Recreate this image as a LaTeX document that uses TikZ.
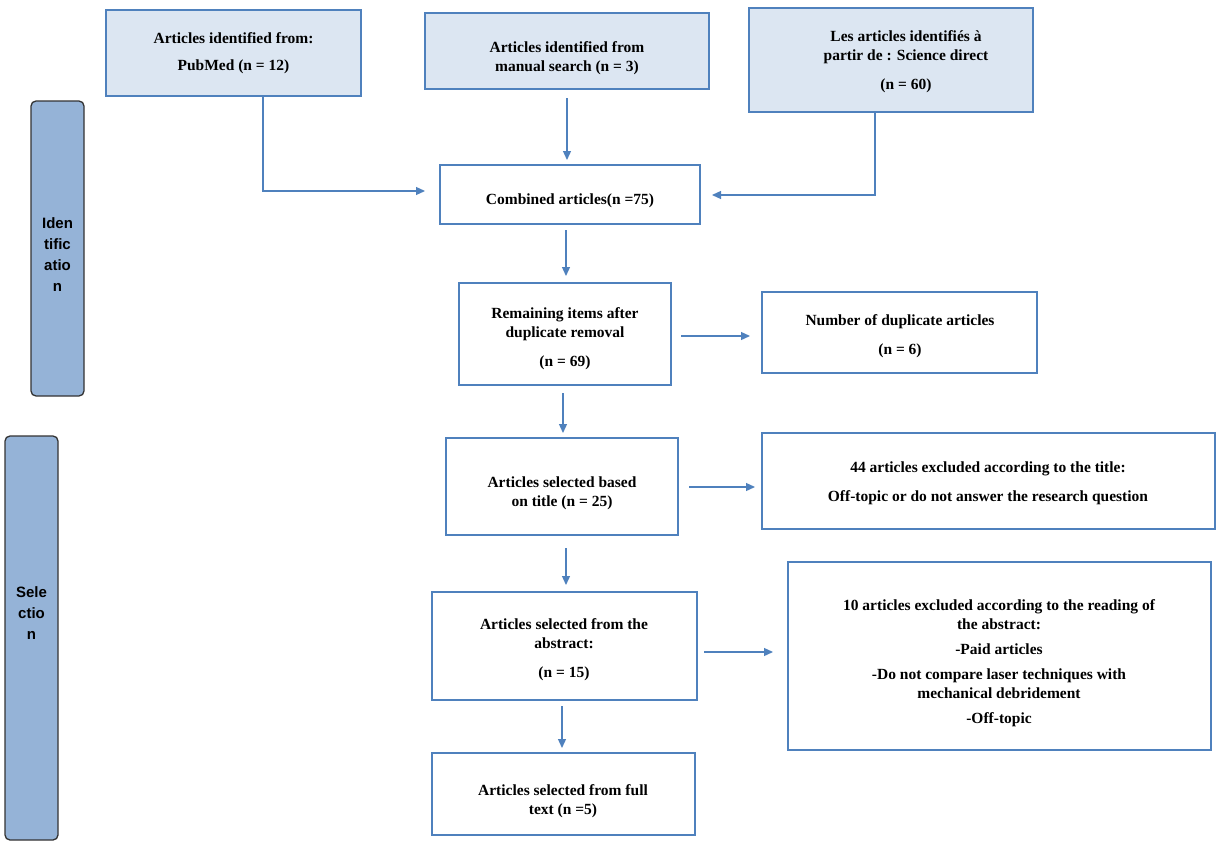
\documentclass[tikz,border=0pt]{standalone}
\usepackage{fontspec}
\setmainfont{Liberation Serif}
\newfontfamily\sidefont{Liberation Sans}
\usetikzlibrary{arrows.meta}
\definecolor{bd}{HTML}{4F81BD}
\definecolor{fl}{HTML}{DCE6F2}
\definecolor{sd}{HTML}{95B3D7}
\begin{document}
\begin{tikzpicture}[x=1pt,y=-1pt,
 box/.style={draw=bd,line width=1.3pt,font=\bfseries\fontsize{15.5}{19}\selectfont,align=center},
 side/.style={draw=black!80,fill=sd,rounded corners=5pt,line width=1.3pt,font=\sidefont\bfseries\fontsize{15}{21}\selectfont,align=center},
 arr/.style={draw=bd,line width=1.3pt,-{Triangle[length=9pt,width=8pt]}}]
\useasboundingbox (0,0) rectangle (1216,843);
\newcommand{\bx}[6]{\draw[box,#6] (#2,#3) rectangle (#4,#5); \node[font=\bfseries\fontsize{15.5}{19}\selectfont,align=center] (#1) at ({(#2+#4)/2},{(#3+#5)/2}) {};}
\draw[box,fill=fl] (106,10) rectangle (361,96);
\node[box,draw=none] (a) at (233.5,53) {Articles identified from:\\[8pt]PubMed (n = 12)};
\draw[box,fill=fl] (425,13) rectangle (709,89);
\node[box,draw=none] (b) at (567,58) {Articles identified from\\manual search (n = 3)};
\draw[box,fill=fl] (749,8) rectangle (1033,112);
\node[box,draw=none] (c) at (906,62) {Les articles identifiés à\\partir de : Science direct\\[10pt](n = 60)};
\draw[box] (440,165) rectangle (700,224);
\node[box,draw=none] (comb) at (570,201) {Combined articles(n =75)};
\draw[box] (459,283) rectangle (671,385);
\node[box,draw=none] (rem) at (565,339) {Remaining items after\\duplicate removal\\[10pt](n = 69)};
\draw[box] (762,292) rectangle (1037,373);
\node[box,draw=none] (dup) at (900,336) {Number of duplicate articles\\[10pt](n = 6)};
\draw[box] (446,438) rectangle (678,535);
\node[box,draw=none] (tit) at (562,493) {Articles selected based\\on title (n = 25)};
\draw[box] (762,433) rectangle (1215,529);
\node[box,draw=none] (ex1) at (988,483) {44 articles excluded according to the title:\\[10pt]Off-topic or do not answer the research question};
\draw[box] (432,592) rectangle (697,700);
\node[box,draw=none] (abs) at (564,650) {Articles selected from the\\abstract:\\[10pt](n = 15)};
\draw[box] (788,562) rectangle (1211,750);
\node[box,draw=none] (ex2) at (999,663) {10 articles excluded according to the reading of\\the abstract:\\[6pt]-Paid articles\\[6pt]-Do not compare laser techniques with\\mechanical debridement\\[6pt]-Off-topic};
\draw[box] (432,753) rectangle (695,835);
\node[box,draw=none] (full) at (563,801) {Articles selected from full\\text (n =5)};
\draw[side] (31,101) rectangle (84,396);
\node[font=\sidefont\bfseries\fontsize{15}{21}\selectfont,align=center] (id) at (57.5,255) {Iden\\tific\\atio\\n};
\draw[side] (5,436) rectangle (58,840);
\node[font=\sidefont\bfseries\fontsize{15}{21}\selectfont,align=center] (se) at (31.5,613) {Sele\\ctio\\n};
\coordinate (a1) at (263,96); \coordinate (a2) at (425,191);
\draw[arr] (a1) |- (a2);
\coordinate (b1) at (567,98); \coordinate (b2) at (567,160);
\draw[arr] (b1) -- (b2);
\coordinate (c1) at (875,112); \coordinate (c2) at (712,195);
\draw[arr] (c1) |- (c2);
\coordinate (d1) at (566,230); \coordinate (d2) at (566,276);
\draw[arr] (d1) -- (d2);
\coordinate (e1) at (681,336); \coordinate (e2) at (750,336);
\draw[arr] (e1) -- (e2);
\coordinate (f1) at (563,393); \coordinate (f2) at (563,433);
\draw[arr] (f1) -- (f2);
\coordinate (g1) at (689,487); \coordinate (g2) at (755,487);
\draw[arr] (g1) -- (g2);
\coordinate (h1) at (566,548); \coordinate (h2) at (566,585);
\draw[arr] (h1) -- (h2);
\coordinate (i1) at (704,652); \coordinate (i2) at (773,652);
\draw[arr] (i1) -- (i2);
\coordinate (j1) at (562,706); \coordinate (j2) at (562,748);
\draw[arr] (j1) -- (j2);
\end{tikzpicture}
\end{document}
